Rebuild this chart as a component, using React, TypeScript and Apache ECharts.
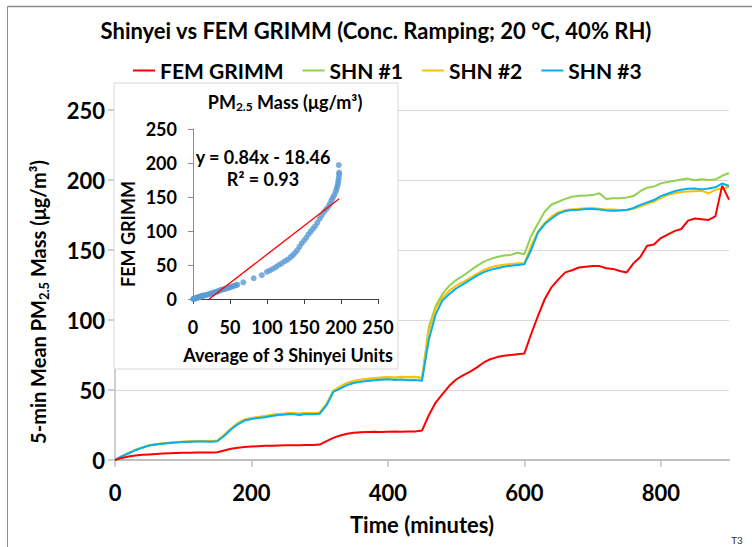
import React, { useEffect, useRef } from "react";
import * as echarts from "echarts";

const FONT = "Lato";

// Time in minutes (5-min means read every 10 minutes)
const minutes = [
  0, 10, 20, 30, 40, 50, 60, 70, 80, 90,
  100, 110, 120, 130, 140, 150, 160, 170, 180, 190,
  200, 210, 220, 230, 240, 250, 260, 270, 280, 290,
  300, 310, 320, 330, 340, 350, 360, 370, 380, 390,
  400, 410, 420, 430, 440, 450, 460, 470, 480, 490,
  500, 510, 520, 530, 540, 550, 560, 570, 580, 590,
  600, 610, 620, 630, 640, 650, 660, 670, 680, 690,
  700, 710, 720, 730, 740, 750, 760, 770, 780, 790,
  800, 810, 820, 830, 840, 850, 860, 870, 880, 890,
  900,
];

const femGrimm = [
  0, 1.5, 2.5, 3.2, 3.7, 4.0, 4.3, 4.6, 4.8, 5.0,
  5.1, 5.2, 5.3, 5.3, 5.4, 5.5, 6.8, 8.0, 8.8, 9.3,
  9.6, 9.9, 10.1, 10.2, 10.4, 10.5, 10.6, 10.6, 10.7, 10.8,
  11.0, 13.5, 15.8, 17.5, 18.8, 19.5, 19.8, 20.0, 20.1, 20.0,
  20.2, 20.3, 20.1, 20.3, 20.4, 21.0, 32, 41, 47, 53,
  57.5, 60.5, 63, 66, 69.5, 72, 73.5, 74.5, 75, 75.5,
  76, 90, 103, 115, 123.5, 129, 134, 135.5, 137.5, 138,
  138.5, 138.5, 137, 136.5, 135, 134, 140.5, 145, 153, 154,
  158.5, 161, 163.5, 165, 171, 172.5, 172, 171.5, 174, 196,
  186,
];

const shn1 = [
  0, 2.7, 4.9, 7.1, 8.9, 10.4, 11.2, 11.8, 12.3, 12.7,
  13.0, 13.2, 13.4, 13.5, 13.4, 13.8, 17.8, 22.3, 26.3, 28.8,
  29.8, 30.6, 31.2, 32.1, 32.8, 33.0, 33.3, 33.0, 33.4, 33.2,
  33.8, 39.8, 49.2, 52.2, 54.8, 56.2, 57.1, 57.8, 58.3, 58.8,
  59.1, 58.8, 59.3, 59.0, 59.3, 58.5, 95, 110, 118.5, 124.5,
  128.5, 131.5, 135, 138.5, 141.5, 143.5, 145, 146, 146.5, 148,
  147, 160, 169, 177.5, 182.5, 184.5, 186.5, 188, 188.7, 189,
  189.2, 190.5, 186.5, 187, 187, 187.5, 188.5, 192, 194.5, 195.3,
  197.6, 198.5, 199.5, 200.3, 201, 199.8, 200.5, 200, 200.3, 203,
  205,
];

const shn2 = [
  0, 2.8, 5.0, 7.2, 9.0, 10.5, 11.3, 11.9, 12.4, 12.8,
  13.1, 13.3, 13.5, 13.6, 13.5, 13.9, 18, 22.5, 26.5, 29,
  30, 30.8, 31.4, 32.3, 33.0, 33.2, 33.5, 33.2, 33.6, 33.4,
  34, 40, 49.5, 52.5, 55, 56.5, 57.3, 58, 58.5, 59,
  59.3, 59, 59.5, 59.2, 59.5, 58.6, 92, 108, 116, 121,
  124.5, 127, 130, 133, 135.5, 137.5, 138.8, 139.5, 140, 140.5,
  140.5, 153, 163, 169.5, 174, 177, 178.5, 179, 179.5, 179.8,
  180, 179.5, 179, 179, 178.5, 178.6, 179.5, 181, 183, 184.5,
  187, 189.3, 190.5, 191.5, 191.7, 192, 192.3, 190.5, 193, 194,
  195,
];

const shn3 = [
  0, 2.6, 4.8, 7.0, 8.8, 10.3, 11.0, 11.6, 12.1, 12.5,
  12.8, 13.0, 13.2, 13.3, 13.1, 13.4, 17.2, 21.8, 25.5, 28.2,
  29.3, 30.0, 30.6, 31.5, 32.1, 32.5, 32.8, 32.2, 32.8, 32.6,
  33, 39, 48.6, 51, 53.5, 55, 55.8, 56.5, 57, 57.3,
  57.6, 57.2, 57.5, 57, 57.2, 56.6, 86, 104, 114, 118.5,
  122.5, 125.5, 128.5, 131.5, 134, 135.8, 137, 138, 138.8, 139.3,
  139.8, 150, 162.5, 168.5, 172.5, 176, 177.8, 178.5, 178.8, 179.2,
  179.3, 179, 178.3, 178, 178.2, 178.6, 180, 182.2, 184, 185.7,
  188.5, 190.2, 192, 193, 193.8, 194, 193.3, 194, 194.8, 197.5,
  195.7,
];

// Inset scatter: average of 3 Shinyei units vs FEM GRIMM
const avgShinyei = [
  0, 1, 2, 3, 4, 5, 6, 7, 8, 9, 10, 11, 12, 13, 14, 16, 18, 20, 22, 24,
  26, 28, 30, 32, 34, 36, 38, 40, 42, 45, 48, 50, 52, 54, 56, 58, 60, 68, 82, 93,
  100, 104, 108, 112, 116, 120, 124, 128, 132, 135, 138, 141, 144, 147, 150, 153, 156, 159, 162, 165,
  168, 171, 174, 177, 180, 183, 185, 187, 189, 191, 193, 194, 195, 196, 196.5, 197, 197.5, 197.5, 197,
];
const femVsAvg = [
  0, 0.3, 0.6, 1, 1.3, 1.6, 2, 2.4, 2.7, 3.1, 3.5, 3.8, 4.2, 4.6, 5, 5.5, 6, 6.6, 7.2, 8,
  8.7, 9.4, 10, 10.6, 11.5, 12.5, 13.3, 14, 14.6, 15.6, 16.5, 17.2, 18, 18.8, 19.5, 20.2, 21, 24.5, 30.5, 35,
  40, 42, 44.5, 47, 50, 52.5, 55.5, 58, 61.5, 64.5, 68, 72, 77, 82, 86, 90, 95, 99, 103, 107,
  112, 118, 123, 128, 132, 136, 140, 145, 149, 153, 158, 162, 166, 170, 174, 178, 183, 186, 197,
];
const trendSlope = 0.84;
const trendIntercept = -18.46;

const mainXTicks = [0, 200, 400, 600, 800];
const mainYTicks = [0, 50, 100, 150, 200, 250];
const insetTicks = [0, 50, 100, 150, 200, 250];

const seriesNames = ["FEM GRIMM", "SHN #1", "SHN #2", "SHN #3"];
const seriesColors = ["#ff0000", "#92d050", "#ffc000", "#00b0f0"];

export default function App() {
  const ref = useRef<HTMLDivElement>(null);

  useEffect(() => {
    if (!ref.current) return;
    const chart = echarts.init(ref.current, null, { renderer: "svg" });

    const valueSets = [femGrimm, shn1, shn2, shn3];
    const lineSeries = valueSets.map((vals, i) => ({
      name: seriesNames[i],
      type: "line",
      xAxisIndex: 0,
      yAxisIndex: 0,
      symbol: "none",
      z: i === 0 ? 4 : 2 + i * 0.1,
      lineStyle: { color: seriesColors[i], width: 2 },
      itemStyle: { color: seriesColors[i] },
      data: minutes.map((t, k) => [t, vals[k]]),
    }));

    const xMin = Math.max(Math.min(...avgShinyei), -trendIntercept / trendSlope);
    const xMax = Math.max(...avgShinyei);

    const bold = { fontFamily: FONT, fontWeight: "bold", color: "#000" };
    const gText = (x: number, y: number, text: string, size: number, rot = 0) => ({
      type: "text",
      z: 10,
      x,
      y,
      rotation: rot,
      style: { text, align: "center", verticalAlign: "middle", fontSize: size, fontWeight: "bold", fontFamily: FONT, fill: "#000" },
    });

    const option = {
      animation: false,
      textStyle: { fontFamily: FONT },
      title: {
        text: "Shinyei vs FEM GRIMM (Conc. Ramping; 20 °C, 40% RH)",
        left: "center",
        top: 19,
        padding: 0,
        textStyle: { ...bold, fontSize: 22 },
      },
      legend: {
        data: seriesNames,
        top: 60,
        left: 133,
        padding: 0,
        icon: "rect",
        itemWidth: 22,
        itemHeight: 2,
        itemGap: 19,
        textStyle: { ...bold, fontSize: 21 },
      },
      grid: [
        { left: 115, top: 110, width: 614, height: 350 },
        { left: 193, top: 129, width: 185, height: 170 },
      ],
      xAxis: [
        {
          type: "value",
          gridIndex: 0,
          min: 0,
          max: 900,
          interval: 200,
          axisLine: { show: true, lineStyle: { color: "#bfbfbf", width: 2 } },
          axisTick: { show: true, length: 7, customValues: mainXTicks, lineStyle: { color: "#bfbfbf", width: 1.5 } },
          axisLabel: { customValues: mainXTicks, ...bold, fontSize: 22, margin: 21 },
          splitLine: { show: false },
        },
        {
          type: "value",
          gridIndex: 1,
          min: 0,
          max: 250,
          interval: 50,
          z: 5,
          axisLine: { show: true, onZero: false, lineStyle: { color: "#404040", width: 1 } },
          axisTick: { show: true, length: 5, customValues: insetTicks, lineStyle: { color: "#404040" } },
          axisLabel: { customValues: insetTicks, ...bold, fontSize: 18, margin: 19 },
          splitLine: { show: false },
        },
      ],
      yAxis: [
        {
          type: "value",
          gridIndex: 0,
          min: 0,
          max: 250,
          interval: 50,
          axisLine: { show: true, lineStyle: { color: "#bfbfbf", width: 1.5 } },
          axisTick: { show: true, length: 7, customValues: mainYTicks, lineStyle: { color: "#bfbfbf", width: 1.5 } },
          axisLabel: { customValues: mainYTicks, ...bold, fontSize: 22, margin: 10 },
          splitLine: { show: true, lineStyle: { color: "#d9d9d9", width: 1 } },
        },
        {
          type: "value",
          gridIndex: 1,
          min: 0,
          max: 250,
          interval: 50,
          z: 5,
          axisLine: { show: true, onZero: false, lineStyle: { color: "#8c8c8c", width: 1 } },
          axisTick: { show: true, length: 5, customValues: insetTicks, lineStyle: { color: "#8c8c8c" } },
          axisLabel: { customValues: insetTicks, ...bold, fontSize: 18, margin: 16 },
          splitLine: { show: false },
        },
      ],
      series: [
        ...lineSeries,
        {
          name: "Inset",
          type: "scatter",
          xAxisIndex: 1,
          yAxisIndex: 1,
          symbolSize: 6,
          z: 6,
          itemStyle: { color: "#5b9bd5" },
          data: avgShinyei.map((x, k) => [x, femVsAvg[k]]),
        },
        {
          name: "Trend",
          type: "line",
          xAxisIndex: 1,
          yAxisIndex: 1,
          symbol: "none",
          z: 7,
          lineStyle: { color: "#ff0000", width: 1.3 },
          data: [
            [xMin, trendSlope * xMin + trendIntercept],
            [xMax, trendSlope * xMax + trendIntercept],
          ],
        },
      ],
      graphic: [
        { type: "line", z: 10, shape: { x1: 7.5, y1: 6.5, x2: 752, y2: 6.5 }, style: { stroke: "#8c8c8c", lineWidth: 1.5 } },
        { type: "line", z: 10, shape: { x1: 7.5, y1: 6.5, x2: 7.5, y2: 547 }, style: { stroke: "#8c8c8c", lineWidth: 1 } },
        {
          type: "rect",
          z: 3,
          shape: { x: 114, y: 83, width: 284, height: 286 },
          style: { fill: "#ffffff", stroke: "#d9d9d9", lineWidth: 1 },
        },
        {
          type: "text",
          z: 10,
          x: 38,
          y: 302,
          rotation: Math.PI / 2,
          style: {
            text: "{n|5-min Mean PM}{sub|2.5}{n| Mass (μg/m³)}",
            align: "center",
            verticalAlign: "middle",
            rich: {
              n: { fontSize: 20, fontWeight: "bold", fontFamily: FONT, lineHeight: 24, fill: "#000" },
              sub: { fontSize: 13, fontWeight: "bold", fontFamily: FONT, lineHeight: 13, verticalAlign: "bottom", fill: "#000" },
            },
          },
        },
        gText(422, 524, "Time (minutes)", 22),
        {
          type: "text",
          z: 10,
          x: 285,
          y: 102,
          style: {
            text: "{n|PM}{sub|2.5}{n| Mass (μg/m³)}",
            align: "center",
            verticalAlign: "middle",
            rich: {
              n: { fontSize: 18, fontWeight: "bold", fontFamily: FONT, lineHeight: 21, fill: "#000" },
              sub: { fontSize: 12, fontWeight: "bold", fontFamily: FONT, lineHeight: 12, verticalAlign: "bottom", fill: "#000" },
            },
          },
        },
        gText(263, 157, "y = 0.84x - 18.46", 18),
        gText(263, 179, "R² = 0.93", 18),
        gText(128, 234, "FEM GRIMM", 18, Math.PI / 2),
        gText(288, 355, "Average of 3 Shinyei Units", 18),
        {
          type: "text",
          z: 10,
          x: 737,
          y: 540,
          style: { text: "T3", align: "center", verticalAlign: "middle", fontSize: 10, fontFamily: FONT, fill: "#333" },
        },
      ],
    };

    chart.setOption(option as any);
    return () => chart.dispose();
  }, []);

  return (
    <div
      ref={ref}
      style={{ position: "absolute", left: 0, top: 0, width: 752, height: 547, background: "#fff" }}
    />
  );
}
